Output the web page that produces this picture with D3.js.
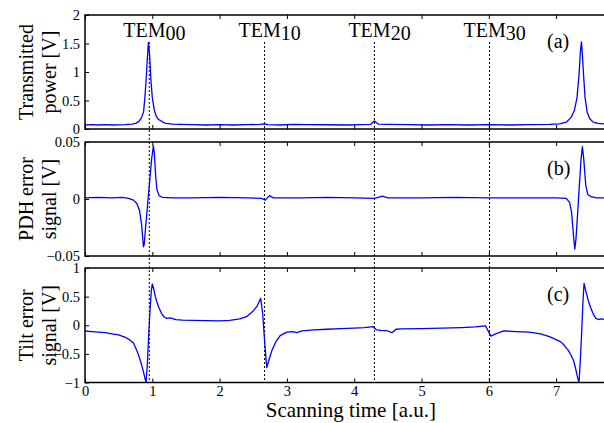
<!DOCTYPE html>
<html>
<head>
<meta charset="utf-8">
<script src="https://cdn.jsdelivr.net/npm/d3@7"></script>
<style>
  body { margin: 0; background: #fff; }
  text { font-family: "Liberation Serif", "Times New Roman", serif; fill: #000; }
  .axis path { display: none; }
  .axis line { stroke: #000; stroke-width: 1; }
  .axis text { font-family: "Liberation Serif", "Times New Roman", serif; font-size: 14.5px; }
</style>
</head>
<body>
<svg id="chart" width="604" height="423"></svg>
<script>
// transmitted power [V]
var powerX = [0, 0.1, 0.2, 0.3, 0.4, 0.5, 0.6, 0.7, 0.75, 0.8, 0.84, 0.87, 0.89, 0.91, 0.927, 0.942, 0.96, 0.98, 1.0, 1.03, 1.06, 1.09, 1.12, 1.16, 1.2, 1.3, 1.4, 1.6, 1.8, 2.0, 2.2, 2.4, 2.6, 2.66, 2.72, 2.9, 3.1, 3.3, 3.6, 3.9, 4.1, 4.24, 4.3, 4.36, 4.5, 4.8, 5.1, 5.4, 5.7, 6.0, 6.3, 6.6, 6.9, 7.05, 7.15, 7.22, 7.27, 7.31, 7.34, 7.36, 7.376, 7.39, 7.41, 7.43, 7.46, 7.5, 7.55, 7.62, 7.72];
var powerY = [0.07, 0.075, 0.07, 0.075, 0.07, 0.072, 0.075, 0.085, 0.1, 0.13, 0.2, 0.3, 0.55, 0.9, 1.25, 1.52, 1.3, 0.85, 0.55, 0.33, 0.22, 0.17, 0.15, 0.12, 0.1, 0.085, 0.08, 0.075, 0.07, 0.075, 0.07, 0.075, 0.08, 0.09, 0.075, 0.07, 0.08, 0.075, 0.075, 0.07, 0.075, 0.08, 0.14, 0.085, 0.08, 0.075, 0.07, 0.075, 0.07, 0.075, 0.07, 0.075, 0.08, 0.09, 0.12, 0.2, 0.32, 0.55, 0.95, 1.35, 1.53, 1.3, 0.9, 0.55, 0.3, 0.18, 0.12, 0.1, 0.09];

// PDH error signal [V]
var pdhX = [0, 0.2, 0.4, 0.55, 0.65, 0.72, 0.77, 0.81, 0.84, 0.86, 0.868, 0.88, 0.9, 0.93, 0.96, 0.99, 1.016, 1.03, 1.05, 1.07, 1.1, 1.15, 1.3, 1.6, 2.0, 2.4, 2.62, 2.68, 2.74, 2.8, 3.2, 3.6, 4.0, 4.3, 4.42, 4.5, 5.0, 5.5, 6.0, 6.5, 7.0, 7.15, 7.2, 7.23, 7.255, 7.277, 7.295, 7.32, 7.345, 7.37, 7.39, 7.41, 7.44, 7.47, 7.52, 7.6, 7.72];
var pdhY = [0.001, 0.0015, 0.001, 0.0015, 0.0005, -0.001, -0.004, -0.01, -0.022, -0.036, -0.042, -0.04, -0.025, -0.005, 0.015, 0.035, 0.0465, 0.04, 0.02, 0.008, 0.003, 0.0015, 0.001, 0.001, 0.0015, 0.001, 0.0005, -0.001, 0.003, 0.001, 0.001, 0.0015, 0.001, 0.0005, 0.0025, 0.001, 0.001, 0.0015, 0.001, 0.001, 0.001, 0.0005, -0.003, -0.012, -0.03, -0.044, -0.035, -0.012, 0.012, 0.035, 0.046, 0.035, 0.012, 0.004, 0.002, 0.001, 0.001];

// tilt error signal [V]
var tiltX = [0, 0.1, 0.2, 0.3, 0.4, 0.5, 0.6, 0.67, 0.72, 0.77, 0.81, 0.84, 0.87, 0.895, 0.908, 0.925, 0.945, 0.965, 0.985, 1.0, 1.02, 1.045, 1.067, 1.1, 1.14, 1.18, 1.215, 1.26, 1.29, 1.35, 1.45, 1.6, 1.8, 2.0, 2.15, 2.3, 2.4, 2.5, 2.56, 2.61, 2.64, 2.67, 2.7, 2.74, 2.78, 2.84, 2.9, 3.0, 3.08, 3.15, 3.22, 3.4, 3.6, 3.8, 4.0, 4.15, 4.28, 4.33, 4.4, 4.5, 4.56, 4.62, 4.7, 5.0, 5.3, 5.6, 5.8, 5.95, 6.03, 6.1, 6.22, 6.4, 6.6, 6.77, 6.9, 7.0, 7.07, 7.12, 7.18, 7.22, 7.26, 7.29, 7.32, 7.34, 7.36, 7.38, 7.4, 7.415, 7.44, 7.48, 7.515, 7.55, 7.59, 7.63, 7.66, 7.72];
var tiltY = [-0.1, -0.11, -0.12, -0.13, -0.15, -0.17, -0.21, -0.26, -0.31, -0.44, -0.57, -0.69, -0.82, -0.95, -0.99, -0.7, -0.2, 0.25, 0.6, 0.72, 0.64, 0.5, 0.41, 0.3, 0.2, 0.14, 0.12, 0.13, 0.12, 0.1, 0.09, 0.085, 0.08, 0.075, 0.085, 0.11, 0.15, 0.25, 0.34, 0.47, 0.2, -0.3, -0.74, -0.58, -0.43, -0.28, -0.18, -0.12, -0.11, -0.13, -0.1, -0.08, -0.07, -0.06, -0.05, -0.04, -0.025, -0.08, -0.09, -0.1, -0.13, -0.07, -0.065, -0.06, -0.05, -0.04, -0.03, -0.01, -0.19, -0.15, -0.1, -0.11, -0.12, -0.15, -0.2, -0.25, -0.29, -0.35, -0.44, -0.52, -0.62, -0.76, -0.92, -1.0, -0.6, -0.1, 0.45, 0.73, 0.6, 0.42, 0.3, 0.2, 0.12, 0.1, 0.11, 0.1];

// mode positions and tick labels
var modeX = [0.955, 2.668, 4.3, 6.01];
var modeNames = ["00", "10", "20", "30"];
var xTicks = [0, 1, 2, 3, 4, 5, 6, 7];
var powerTicks = [0, 0.5, 1, 1.5, 2];
var pdhTicks = [-0.05, 0, 0.05];
var tiltTicks = [-1, -0.5, 0, 0.5, 1];

var svg = d3.select("#chart");

var x_scale = d3.scaleLinear().domain([0, 7.72]).range([85, 604.6]);

var panels = [
	{ top: 15, bottom: 129, domain: [0, 2], ticks: powerTicks, xs: powerX, ys: powerY, tag: "(a)", label: ["Transmitted", "power [V]"] },
	{ top: 142, bottom: 256, domain: [-0.05, 0.05], ticks: pdhTicks, xs: pdhX, ys: pdhY, tag: "(b)", label: ["PDH error", "signal [V]"] },
	{ top: 268, bottom: 382.5, domain: [-1, 1], ticks: tiltTicks, xs: tiltX, ys: tiltY, tag: "(c)", label: ["Tilt error", "signal [V]"] }
];

// dashed mode markers go through all three panels
svg.selectAll(".mode")
	.data(modeX)
	.enter().append("line")
		.attr("class", "mode")
		.attr("x1", function (d) { return x_scale(d); })
		.attr("x2", function (d) { return x_scale(d); })
		.attr("y1", 42)
		.attr("y2", 382.5)
		.attr("stroke", "#000")
		.attr("stroke-width", 1)
		.attr("stroke-dasharray", "2,2");

panels.forEach(function (p, i) {
	var y_scale = d3.scaleLinear().domain(p.domain).range([p.bottom, p.top]);
	var last = i == panels.length - 1;

	svg.append("clipPath")
		.attr("id", "clip" + i)
		.append("rect")
			.attr("x", 85)
			.attr("y", p.top - 1)
			.attr("width", 520)
			.attr("height", p.bottom - p.top + 2);

	var line = d3.line()
		.x(function (d) { return x_scale(d[0]); })
		.y(function (d) { return y_scale(d[1]); });

	svg.append("path")
		.datum(d3.zip(p.xs, p.ys))
		.attr("clip-path", "url(#clip" + i + ")")
		.attr("fill", "none")
		.attr("stroke", "#0000ff")
		.attr("stroke-width", 1.3)
		.attr("stroke-linejoin", "round")
		.attr("d", line);

	var xAxisB = d3.axisBottom(x_scale).tickValues(xTicks).tickSizeInner(-4).tickSizeOuter(0).tickPadding(3);
	if (!last) xAxisB.tickFormat("");
	svg.append("g")
		.attr("class", "axis")
		.attr("transform", "translate(0," + p.bottom + ")")
		.call(xAxisB)
		.attr("font-family", null);

	svg.append("g")
		.attr("class", "axis")
		.attr("transform", "translate(0," + p.top + ")")
		.call(d3.axisTop(x_scale).tickValues(xTicks).tickSizeInner(-4).tickSizeOuter(0).tickFormat(""));

	svg.append("g")
		.attr("class", "axis")
		.attr("transform", "translate(85,0)")
		.call(d3.axisLeft(y_scale).tickValues(p.ticks).tickSizeInner(-4).tickSizeOuter(0).tickPadding(5).tickFormat(d3.format("~g")))
		.attr("font-family", null);

	// box
	svg.append("rect")
		.attr("x", 85)
		.attr("y", p.top)
		.attr("width", 530)
		.attr("height", p.bottom - p.top)
		.attr("fill", "none")
		.attr("stroke", "#000")
		.attr("stroke-width", 1.5);

	svg.append("text")
		.attr("x", 547)
		.attr("y", p.top + 33)
		.style("font-size", "20px")
		.text(p.tag);

	var mid = (p.top + p.bottom) / 2;
	p.label.forEach(function (s, j) {
		svg.append("text")
			.attr("transform", "translate(" + (33 + j * 23) + "," + mid + ") rotate(-90)")
			.attr("text-anchor", "middle")
			.style("font-size", "20px")
			.text(s);
	});
});

// TEM labels
var tem = svg.selectAll(".tem")
	.data(d3.zip(modeX, modeNames))
	.enter().append("text")
		.attr("class", "tem")
		.attr("x", function (d) { return x_scale(d[0]) - 26; })
		.attr("y", 37)
		.style("font-size", "20px")
		.text("TEM");
tem.append("tspan")
	.attr("dy", 3)
	.text(function (d) { return d[1]; });

svg.append("text")
	.attr("x", x_scale(3.95))
	.attr("y", 417)
	.attr("text-anchor", "middle")
	.style("font-size", "21px")
	.text("Scanning time [a.u.]");
</script>
</body>
</html>
